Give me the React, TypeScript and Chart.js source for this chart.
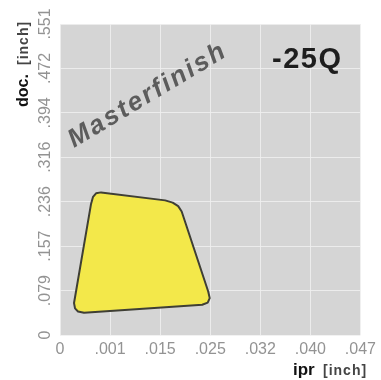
import { useEffect, useRef } from 'react';
import { Chart, registerables } from 'chart.js';

Chart.register(...registerables);

// Tick labels (inch)
const iprTickLabels = ['0', '.001', '.015', '.025', '.032', '.040', '.047'];
const docTickLabels = ['0', '.079', '.157', '.236', '.316', '.394', '.472', '.551'];

// Application region outline (in tick-index units)
const regionIpr = [0.30, 0.62, 0.66, 0.72, 0.82, 2.10, 2.25, 2.36, 2.43, 2.96, 2.99, 2.95, 2.84, 0.48, 0.36, 0.30, 0.28, 0.30];
const regionDoc = [0.85, 2.95, 3.11, 3.19, 3.21, 3.03, 2.98, 2.90, 2.78, 0.98, 0.83, 0.73, 0.68, 0.50, 0.53, 0.60, 0.72, 0.85];

const gradeLabel = '-25Q';
const watermark = 'Masterfinish';
const xTitleMain = 'ipr';
const yTitleMain = 'doc.';
const unitLabel = '[inch]';

const FONT = "'Liberation Sans', Arial, Helvetica, sans-serif";

const decorPlugin = {
  id: 'decor',
  beforeDraw(chart: any) {
    const { ctx, chartArea: a } = chart;
    ctx.save();
    ctx.fillStyle = '#d5d5d5';
    ctx.fillRect(a.left, a.top, a.right - a.left, a.bottom - a.top);
    ctx.restore();
  },
  afterDatasetsDraw(chart: any) {
    const { ctx, chartArea: a } = chart;
    ctx.save();
    // watermark
    ctx.translate(a.left + 14, a.top + 124);
    ctx.rotate(-31 * Math.PI / 180);
    ctx.font = `italic bold 26px ${FONT}`;
    (ctx as any).letterSpacing = '2.3px';
    ctx.fillStyle = '#5c5c5c';
    ctx.textAlign = 'left';
    ctx.textBaseline = 'alphabetic';
    ctx.fillText(watermark, 0, 0);
    ctx.restore();

    ctx.save();
    ctx.font = `bold 29px ${FONT}`;
    (ctx as any).letterSpacing = '1.5px';
    ctx.fillStyle = '#1e1e1e';
    ctx.textAlign = 'left';
    ctx.textBaseline = 'alphabetic';
    ctx.fillText(gradeLabel, a.left + 212, a.top + 44);
    ctx.restore();
  },
  afterDraw(chart: any) {
    const { ctx, chartArea: a } = chart;
    // x title
    ctx.save();
    ctx.textBaseline = 'alphabetic';
    ctx.textAlign = 'left';
    ctx.fillStyle = '#111';
    ctx.font = `bold 17px ${FONT}`;
    ctx.fillText(xTitleMain, a.left + 233, a.bottom + 40);
    ctx.fillStyle = '#444';
    ctx.font = `bold 14px ${FONT}`;
    (ctx as any).letterSpacing = '1px';
    ctx.fillText(unitLabel, a.left + 263, a.bottom + 40);
    ctx.restore();

    // y title
    ctx.save();
    ctx.translate(28, a.top + 83);
    ctx.rotate(-Math.PI / 2);
    ctx.textBaseline = 'alphabetic';
    ctx.textAlign = 'left';
    ctx.fillStyle = '#111';
    ctx.font = `bold 16px ${FONT}`;
    ctx.fillText(yTitleMain, 0, 0);
    ctx.fillStyle = '#444';
    ctx.font = `bold 14px ${FONT}`;
    (ctx as any).letterSpacing = '1px';
    ctx.fillText(unitLabel, 42, 0);
    ctx.restore();
  },
};

export default function App() {
  const ref = useRef<HTMLCanvasElement | null>(null);

  useEffect(() => {
    document.body.style.margin = '0';
    const canvas = ref.current;
    if (!canvas) return;
    const points = regionIpr.map((x, i) => ({ x, y: regionDoc[i] }));
    const chart = new Chart(canvas, {
      type: 'scatter',
      data: {
        datasets: [
          {
            data: points,
            showLine: true,
            fill: 'shape' as any,
            backgroundColor: '#f3e84a',
            borderColor: '#3f3f35',
            borderWidth: 2,
            borderJoinStyle: 'round',
            pointRadius: 0,
            tension: 0,
          },
        ],
      },
      options: {
        animation: false,
        responsive: false,
        maintainAspectRatio: false,
        layout: { padding: { top: 24, right: 8, left: 0, bottom: 0 } },
        plugins: { legend: { display: false }, tooltip: { enabled: false } },
        scales: {
          x: {
            type: 'linear',
            min: 0,
            max: 6,
            border: { display: false },
            grid: { color: 'rgba(240,240,240,0.85)', lineWidth: 1, drawTicks: false },
            ticks: {
              stepSize: 1,
              autoSkip: false,
              maxRotation: 0,
              padding: 5,
              color: '#939393',
              font: { family: FONT, size: 16 },
              callback: (v: any) => iprTickLabels[Math.round(Number(v))] ?? '',
            },
            afterFit: (s: any) => { s.height = 45; },
          },
          y: {
            type: 'linear',
            min: 0,
            max: 7,
            border: { display: false },
            grid: { color: 'rgba(240,240,240,0.85)', lineWidth: 1, drawTicks: false },
            ticks: {
              stepSize: 1,
              autoSkip: false,
              minRotation: 90,
              maxRotation: 90,
              crossAlign: 'center',
              padding: -1,
              color: '#939393',
              font: { family: FONT, size: 16 },
              callback: (v: any) => docTickLabels[Math.round(Number(v))] ?? '',
            },
            afterFit: (s: any) => { s.width = 60; },
          },
        },
      },
      plugins: [decorPlugin],
    });
    return () => chart.destroy();
  }, []);

  return (
    <div style={{ position: 'absolute', left: 0, top: 0, width: 381, height: 380, background: '#fff' }}>
      <canvas ref={ref} width={381} height={380} style={{ width: 381, height: 380, display: 'block' }} />
    </div>
  );
}
